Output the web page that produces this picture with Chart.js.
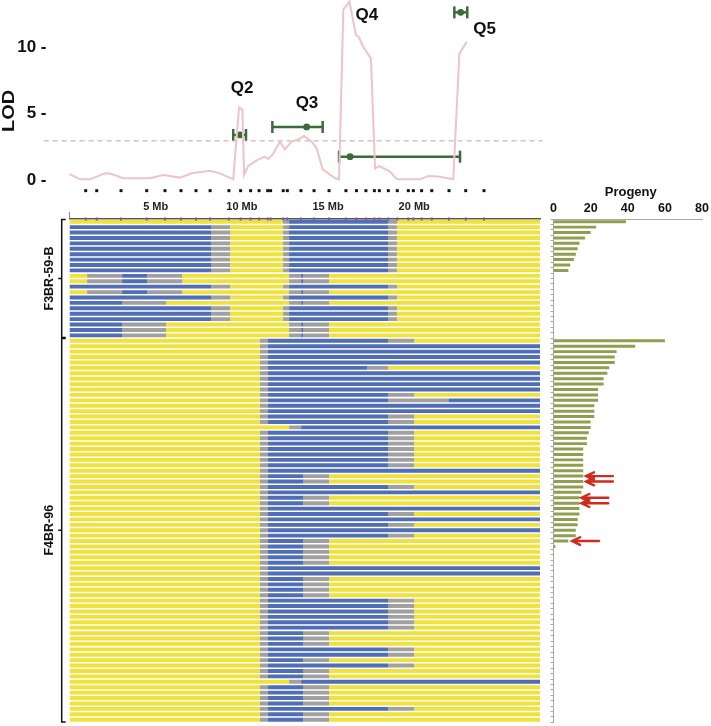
<!DOCTYPE html>
<html>
<head>
<meta charset="utf-8">
<script src="https://cdn.jsdelivr.net/npm/chart.js@4.4.1/dist/chart.umd.min.js"></script>
<style>
  html, body { margin: 0; padding: 0; background: #fff; }
  #wrap { position: relative; width: 711px; height: 726px; overflow: hidden; }
  canvas { position: absolute; left: 0; top: 0; }
</style>
</head>
<body>
<div id="wrap">
  <canvas id="lod" width="711" height="726"></canvas>
  <canvas id="geno" width="711" height="726"></canvas>
  <canvas id="prog" width="711" height="726"></canvas>
</div>
<script>
Chart.defaults.font.family = "'Liberation Sans', Arial, Helvetica, sans-serif";
Chart.defaults.color = '#111';

// ---- LOD scan along the chromosome (Mb) ----
const lodPos = [0, 0.61, 1.19, 2.06, 2.35, 3.12, 4.67, 5.44, 6.41, 7.09, 8.15, 8.73, 9.5, 9.84, 10.03, 10.13,
  10.37, 10.96, 11.34, 11.54, 11.83, 12.21, 12.5, 12.89, 13.28, 13.61, 14.05, 14.34, 14.69, 15.02, 15.41, 15.64,
  15.89, 16.24, 16.62, 16.76, 17.05, 17.49, 17.73, 17.98, 18.6, 18.99, 20.34, 20.82, 21.5, 22.27, 22.62, 23.05];
const lodScore = [0.47, 0.07, 0.07, 0.52, 0.5, 0.15, 0.15, 0.4, 0.2, 0.52, 0.72, 0.52, 0.07, 5.47, 5.3, 0.4,
  1.07, 1.57, 1.77, 1.6, 2.02, 2.9, 2.32, 2.9, 3.07, 3.32, 2.9, 2.4, 0.82, 0.52, 0.15, 0.07,
  12.8, 13.4, 10.9, 10.8, 10.0, 9.15, 0.9, 1.07, 0.65, 0.07, 0.07, 0.32, 0.27, 0.07, 9.5, 10.4];
const lodThreshold = 2.95;
const lodTicks = [0, 5, 10];

// QTL intervals
const qtlNames = ['Q2', 'Q3', 'Q4', 'Q5'];
const qtlLow = [9.5, 11.77, 15.64, 22.33];
const qtlHigh = [10.24, 14.69, 22.66, 23.08];
const qtlPeak = [9.89, 13.76, 16.28, 22.7];
const qtlLod = [3.4, 4.0, 1.77, 12.6];

// genetic markers (Mb)
const markerMb = [0.94, 1.58, 2.99, 4.48, 5.54, 6.47, 7.34, 8.16, 9.25, 9.93, 10.51, 11.0, 11.5, 11.67, 12.4,
  12.64, 13.43, 14.19, 15.06, 16.04, 16.65, 17.2, 17.69, 17.98, 18.5, 19.02, 19.66, 19.95, 20.43, 21.02,
  22.02, 22.99, 24.05];

const chromMb = 27.3;
const mbTicks = [5, 10, 15, 20];

// haplotypes: [start Mb, end Mb, genotype]  Y = yellow, B = blue, G = unknown
const hapH = [[0, 12.39, 'Y'], [12.39, 12.74, 'G'], [12.74, 18.48, 'B'], [18.48, 19.0, 'G'], [19.0, 27.3, 'Y']];
const hapP = [[0, 8.21, 'B'], [8.21, 9.32, 'G'], [9.32, 12.39, 'Y'], [12.39, 12.74, 'G'], [12.74, 18.48, 'B'],
  [18.48, 19.0, 'G'], [19.0, 27.3, 'Y']];
const hapQ = [[0, 1.02, 'Y'], [1.02, 3.05, 'G'], [3.05, 4.5, 'B'], [4.5, 6.53, 'G'], [6.53, 12.74, 'Y'],
  [12.74, 13.44, 'G'], [13.44, 13.55, 'B'], [13.55, 15.06, 'G'], [15.06, 27.3, 'Y']];
const hapR = [[0, 3.05, 'B'], [3.05, 5.6, 'G'], [5.6, 12.74, 'Y'], [12.74, 13.44, 'G'], [13.44, 13.55, 'B'],
  [13.55, 15.06, 'G'], [15.06, 27.3, 'Y']];
const hapA = [[0, 11.05, 'Y'], [11.05, 11.52, 'G'], [11.52, 18.48, 'B'], [18.48, 19.99, 'G'], [19.99, 27.3, 'Y']];
const hapB = [[0, 11.05, 'Y'], [11.05, 11.52, 'G'], [11.52, 27.3, 'B']];
const hapC = [[0, 11.05, 'Y'], [11.05, 11.52, 'G'], [11.52, 17.26, 'B'], [17.26, 18.48, 'G'], [18.48, 27.3, 'Y']];
const hapD = [[0, 11.05, 'Y'], [11.05, 11.52, 'G'], [11.52, 18.48, 'B'], [18.48, 22.02, 'G'], [22.02, 27.3, 'B']];
const hapE = [[0, 11.05, 'Y'], [11.05, 11.52, 'G'], [11.52, 13.55, 'B'], [13.55, 15.06, 'G'], [15.06, 27.3, 'Y']];
const hapF = [[0, 12.74, 'Y'], [12.74, 13.44, 'G'], [13.44, 27.3, 'B']];

// one letter per line, top to bottom
const f3Haps = 'HPPPPPPPPPQQPQPRPPPRRR';
const f4Haps = 'abbbbcbbbbadbbaafaaaaaaabeeabeebababaeeeeebbeeeeaaaaaaeeeaaeaeefeeeeaee';

// progeny counts per line
const f3Progeny = [39, 23, 20, 17, 14, 13, 12, 11, 9, 8, null, null, null, null, null, null, null, null, null, null, null, null];
const f4Progeny = [60, 44, 34, 33, 33, 30, 29, 27, 27, 24, 24, 24, 22, 22, 22, 20, 20, 19, 18, 18,
  16, 16, 16, 16, 16, 16, 16, 16, 15, 14, 14, 14, 14, 13, 13, 12, 12, 8, 1];

// F4BR-96 lines marked with red arrows
const arrowRows = [26, 27, 30, 31, 38];
const arrowTip = [17.5, 17.5, 15, 15, 10];

const hapByCode = { H: hapH, P: hapP, Q: hapQ, R: hapR, a: hapA, b: hapB, c: hapC, d: hapD, e: hapE, f: hapF };
const genoColor = { Y: '#efe23d', B: '#4f6eb5', G: '#a0a0a0' };
const green = '#3b6b38';
const font = "'Liberation Sans', Arial, Helvetica, sans-serif";

const rowLabels = f3Haps.split('').map((c, i) => 'F3BR-59-B ' + (i + 1))
  .concat(f4Haps.split('').map((c, i) => 'F4BR-96 ' + (i + 1)));
const rowHaps = (f3Haps + f4Haps).split('').map(c => hapByCode[c]);
const groups = [
  { name: 'F3BR-59-B', first: 0, last: f3Haps.length - 1 },
  { name: 'F4BR-96', first: f3Haps.length, last: f3Haps.length + f4Haps.length - 1 }
];

const base = { responsive: false, animation: false, devicePixelRatio: 1, events: [] };
const noLegend = { legend: { display: false }, tooltip: { enabled: false } };
// keep the label overhang of an axis from pushing the plot area around
const noOverhang = s => { s.paddingTop = 0; s.paddingBottom = 0; s.paddingLeft = 0; s.paddingRight = 0; };

// ---- top: LOD curve ----
const qtlLabelAt = [[10.01, 6.92], [13.78, 5.8], [17.25, 12.4], [24.09, 11.34]];
const lodDecor = {
  id: 'lodDecor',
  afterDraw(chart) {
    const { ctx, scales: { x, y } } = chart;
    ctx.save();
    ctx.fillStyle = '#111';
    ctx.textAlign = 'center';
    ctx.textBaseline = 'middle';
    ctx.font = 'bold 17px ' + font;
    qtlNames.forEach((n, i) => {
      ctx.fillText(n, x.getPixelForValue(qtlLabelAt[i][0]), y.getPixelForValue(qtlLabelAt[i][1]));
    });
    ctx.translate(9.5, 111);
    ctx.rotate(-Math.PI / 2);
    ctx.scale(1.17, 1);
    ctx.fillText('LOD', 0, 0);
    ctx.restore();
  }
};

new Chart(document.getElementById('lod'), {
  type: 'scatter',
  data: {
    datasets: [
      { data: lodPos.map((p, i) => ({ x: p, y: lodScore[i] })), showLine: true, borderColor: '#f0c2ce',
        borderWidth: 2, pointRadius: 0, clip: false },
      { data: [{ x: -1.5, y: lodThreshold }, { x: 27.45, y: lodThreshold }], showLine: true,
        borderColor: '#bdbdbd', borderWidth: 1.2, borderDash: [5, 4], pointRadius: 0, clip: false },
      ...qtlNames.map((n, i) => ({
        data: [{ x: qtlLow[i], y: qtlLod[i] }, { x: qtlHigh[i], y: qtlLod[i] }], showLine: true,
        borderColor: green, borderWidth: 2.5, pointStyle: 'line', rotation: 90, pointRadius: 6,
        pointBorderWidth: 2.5, pointBorderColor: green, clip: false
      })),
      { data: qtlPeak.map((p, i) => ({ x: p, y: qtlLod[i] })), pointRadius: 3.4,
        pointBackgroundColor: green, pointBorderWidth: 0, clip: false },
      { data: markerMb.map(m => ({ x: m, y: -0.78 })), pointStyle: 'rect', pointRadius: 2.1,
        pointBackgroundColor: '#111', pointBorderWidth: 0, clip: false }
    ]
  },
  options: {
    ...base,
    layout: { autoPadding: false, padding: { left: 0, right: 171, top: 0.35, bottom: 532.4 } },
    plugins: noLegend,
    scales: {
      x: { type: 'linear', min: 0, max: chromMb, display: false },
      y: {
        type: 'linear', min: -1, max: 13.5,
        afterFit: s => { s.width = 69.5; noOverhang(s); },
        afterBuildTicks: s => { s.ticks = lodTicks.map(v => ({ value: v })); },
        ticks: { callback: v => v + ' -', font: { size: 17, weight: 'bold' }, color: '#111', padding: 23 },
        grid: { display: false, drawTicks: false },
        border: { display: false }
      }
    }
  },
  plugins: [lodDecor]
});

// ---- middle: genotype of each line ----
const maxSeg = Math.max(...rowHaps.map(h => h.length));
const genoSets = [];
for (let j = 0; j < maxSeg; j++) {
  genoSets.push({
    data: rowHaps.map(h => h[j] ? [h[j][0], h[j][1]] : null),
    backgroundColor: rowHaps.map(h => h[j] ? genoColor[h[j][2]] : 'rgba(0,0,0,0)'),
    grouped: false, barPercentage: 0.72, categoryPercentage: 1, borderWidth: 0
  });
}

const genoDecor = {
  id: 'genoDecor',
  afterDraw(chart) {
    const { ctx, scales: { x, y }, chartArea } = chart;
    const half = (y.getPixelForValue(1) - y.getPixelForValue(0)) / 2;
    ctx.save();
    // marker ticks on the Mb axis
    ctx.fillStyle = '#8d4f9e';
    markerMb.forEach(m => ctx.fillRect(x.getPixelForValue(m) - 1, chartArea.top - 1.5, 2, 3));
    ctx.fillStyle = '#888';
    ctx.fillRect(x.getPixelForValue(0) - 0.5, chartArea.top - 7, 1, 6);
    // brackets + line names
    groups.forEach(g => {
      const top = y.getPixelForValue(g.first) - half + 0.5;
      const bot = y.getPixelForValue(g.last) + half - 0.5;
      const mid = (top + bot) / 2;
      const bx = 61.7;
      ctx.strokeStyle = '#111';
      ctx.lineWidth = 1.5;
      ctx.beginPath();
      ctx.moveTo(bx + 4, top); ctx.lineTo(bx, top); ctx.lineTo(bx, bot); ctx.lineTo(bx + 4, bot);
      ctx.moveTo(bx, mid); ctx.lineTo(bx - 3.5, mid);
      ctx.stroke();
      ctx.save();
      ctx.translate(50, mid);
      ctx.rotate(-Math.PI / 2);
      ctx.font = 'bold 12.5px ' + font;
      ctx.fillStyle = '#111';
      ctx.textAlign = 'center';
      ctx.textBaseline = 'middle';
      ctx.fillText(g.name, 0, 0);
      ctx.restore();
    });
    ctx.restore();
  }
};

new Chart(document.getElementById('geno'), {
  type: 'bar',
  data: { labels: rowLabels, datasets: genoSets },
  options: {
    ...base,
    indexAxis: 'y',
    layout: { autoPadding: false, padding: { left: 69.5, right: 171, top: 0, bottom: 3.6 } },
    plugins: noLegend,
    scales: {
      x: {
        type: 'linear', position: 'top', min: 0, max: chromMb,
        afterFit: s => { s.height = 219; noOverhang(s); },
        afterBuildTicks: s => { s.ticks = mbTicks.map(v => ({ value: v })); },
        ticks: { callback: v => v + ' Mb', font: { size: 11, weight: 'bold' }, color: '#222', padding: 5.5, maxRotation: 0, autoSkip: false },
        grid: { display: false, drawTicks: false },
        border: { display: true, color: '#555', width: 1.5 }
      },
      y: { display: false }
    }
  },
  plugins: [genoDecor]
});

// ---- right: progeny counts ----
const progDecor = {
  id: 'progDecor',
  afterDraw(chart) {
    const { ctx, scales: { x, y }, chartArea } = chart;
    ctx.save();
    ctx.font = 'bold 13px ' + font;
    ctx.fillStyle = '#111';
    ctx.textAlign = 'center';
    ctx.textBaseline = 'middle';
    ctx.fillText('Progeny', (chartArea.left + chartArea.right) / 2 + 3, 192.5);
    ctx.strokeStyle = '#d12b1f';
    ctx.lineWidth = 2.4;
    ctx.lineCap = 'round';
    arrowRows.forEach((r, i) => {
      const py = y.getPixelForValue(f3Haps.length + r - 1);
      const x0 = x.getPixelForValue(arrowTip[i]);
      const x1 = x.getPixelForValue(arrowTip[i] + 14.5);
      ctx.beginPath();
      ctx.moveTo(x0 + 1.5, py); ctx.lineTo(x1, py);
      ctx.moveTo(x0 + 8, py - 3.8); ctx.lineTo(x0, py); ctx.lineTo(x0 + 8, py + 3.8);
      ctx.stroke();
    });
    ctx.restore();
  }
};

new Chart(document.getElementById('prog'), {
  type: 'bar',
  data: {
    labels: rowLabels,
    datasets: [{ data: f3Progeny.concat(f4Progeny), backgroundColor: '#8e9f4f', barPercentage: 0.55,
      categoryPercentage: 1, borderWidth: 0 }]
  },
  options: {
    ...base,
    indexAxis: 'y',
    layout: { autoPadding: false, padding: { left: 553.5, right: 9, top: 0, bottom: 3.6 } },
    plugins: noLegend,
    scales: {
      x: {
        type: 'linear', position: 'top', min: 0, max: 80,
        afterFit: s => { s.height = 219; noOverhang(s); },
        ticks: { stepSize: 20, font: { size: 12.5, weight: 'bold' }, color: '#111', padding: 3.3 },
        grid: { display: false, drawTicks: false },
        border: { display: true, color: '#a8a8a8', width: 1 }
      },
      y: {
        afterFit: s => { s.width = 0; noOverhang(s); },
        ticks: { display: false },
        grid: { drawOnChartArea: false, drawTicks: true, tickLength: 3, color: '#a8a8a8' },
        border: { display: true, color: '#a8a8a8', width: 1 }
      }
    }
  },
  plugins: [progDecor]
});
</script>
</body>
</html>
